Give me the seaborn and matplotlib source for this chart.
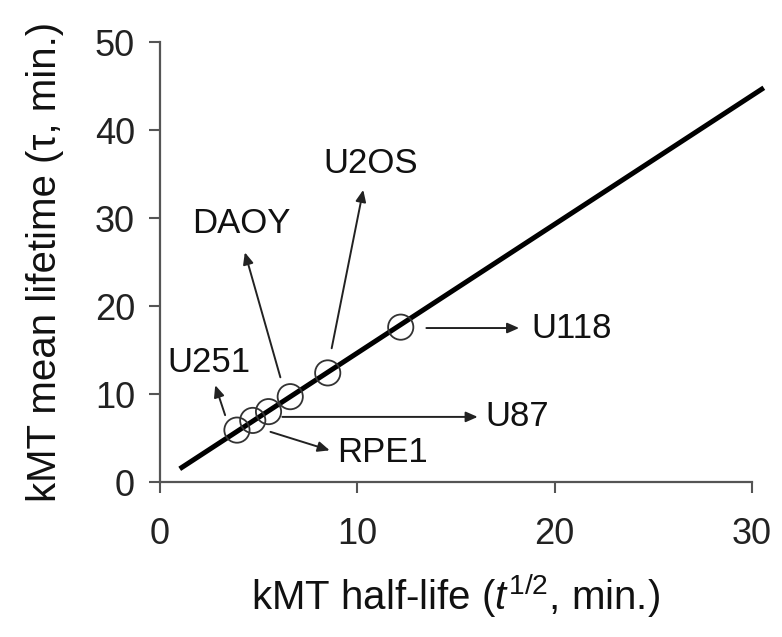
import matplotlib
matplotlib.use("Agg")
import matplotlib.pyplot as plt
import seaborn as sns
import pandas as pd

# kMT half-life vs mean lifetime for each cell line
cell_lines = ["U251", "RPE1", "U87", "DAOY", "U2OS", "U118"]
half_life = [3.9, 4.7, 5.5, 6.6, 8.5, 12.2]
mean_lifetime = [5.9, 7.0, 8.0, 9.7, 12.4, 17.6]

# fitted line (tau = t1/2 / ln2)
fit_x = [1.0, 30.6]
fit_y = [1.5, 44.8]

x_ticks = [0, 10, 20, 30]
y_ticks = [0, 10, 20, 30, 40, 50]

# label placement: (text x, text y, ha, arrow tail, arrow head)
label_pos = {
    "U251": (2.5, 13.6, "center", (3.3, 7.6), (2.8, 11.0)),
    "RPE1": (9.0, 3.3, "left", (5.6, 5.7), (8.6, 3.6)),
    "U87": (16.5, 7.4, "left", (6.2, 7.4), (16.1, 7.4)),
    "DAOY": (4.1, 29.4, "center", (6.1, 11.9), (4.3, 26.1)),
    "U2OS": (10.7, 36.2, "center", (8.7, 15.2), (10.3, 33.2)),
    "U118": (18.8, 17.4, "left", (13.5, 17.5), (18.2, 17.5)),
}

df = pd.DataFrame({"cell": cell_lines, "t_half": half_life, "tau": mean_lifetime})
fit = pd.DataFrame({"x": fit_x, "y": fit_y})

sns.set_style("ticks")
plt.rcParams["font.family"] = ["Liberation Sans", "DejaVu Sans"]
plt.rcParams["mathtext.fontset"] = "custom"
plt.rcParams["mathtext.rm"] = "Liberation Sans"
plt.rcParams["mathtext.it"] = "Liberation Sans:italic"

fig = plt.figure(figsize=(7.82, 6.37), dpi=100)
ax = fig.add_axes([0.2046, 0.2433, 0.757, 0.6907])

sns.lineplot(data=fit, x="x", y="y", ax=ax, color="black", linewidth=3.6,
             solid_capstyle="butt")
ax.lines[-1].set_clip_on(False)
sns.scatterplot(data=df, x="t_half", y="tau", ax=ax, s=330, marker="o",
                facecolors="none", edgecolor="#333333", linewidth=1.3, zorder=3)

for name in cell_lines:
    tx, ty, ha, tail, head = label_pos[name]
    ax.annotate("", xy=head, xytext=tail,
                arrowprops=dict(arrowstyle="-|>,head_length=0.5,head_width=0.22",
                                color="#222222", lw=1.4, shrinkA=0, shrinkB=0,
                                mutation_scale=14))
    ax.text(tx, ty, name, ha=ha, va="center", fontsize=25, color="#111111")

ax.set_xlim(0, 30)
ax.set_ylim(0, 50)
ax.set_xticks(x_ticks)
ax.set_yticks(y_ticks)
ax.tick_params(labelsize=26, length=8, width=1.5, color="#555555",
               labelcolor="#222222")
ax.tick_params(axis="y", pad=10)
ax.tick_params(axis="x", pad=17)
for side in ["left", "bottom"]:
    ax.spines[side].set_color("#555555")
    ax.spines[side].set_linewidth(1.6)
sns.despine(ax=ax)

ax.set_xlabel(r"kMT half-life ($\mathit{t}^{\mathrm{1/2}}$, min.)", fontsize=29,
              labelpad=14, color="#111111")
ax.set_ylabel("kMT mean lifetime (τ, min.)", fontsize=29, labelpad=22,
              color="#111111")

fig.savefig("out.png", dpi=100)
